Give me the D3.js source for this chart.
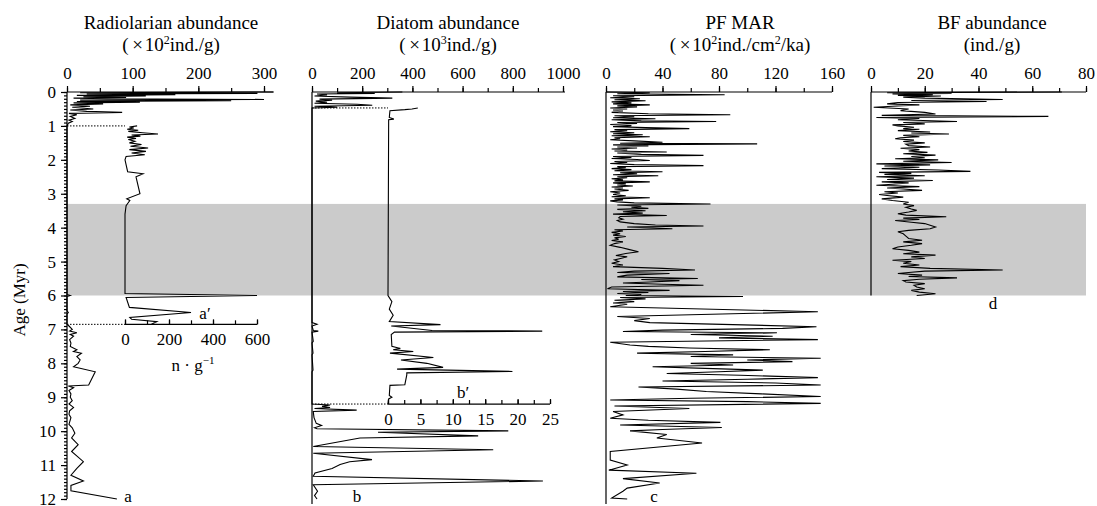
<!DOCTYPE html>
<meta charset="utf-8">
<head>
  <title>Microfossil records vs age</title>
</head>
<style>
    body { margin: 0; background: #fff; }
    svg text { font-family: "Liberation Serif", "Times New Roman", serif; font-size: 17px; fill: #000; }
    .trace { fill: none; stroke: #000; stroke-width: 1.1px; stroke-linejoin: miter; }
    .axis line, .axisline { stroke: #000; stroke-width: 1.2px; }
    .axis text { font-size: 17px; }
    .title { font-size: 19px; }
    .dots { stroke: #000; stroke-width: 1px; stroke-dasharray: 1.5 1.5; }
</style>
<body>
<svg id="chart" width="1097" height="506"></svg>
<script src="https://d3js.org/d3.v7.min.js"></script>
<script>
    // ages in Myr
    var ageTicks = [0,1,2,3,4,5,6,7,8,9,10,11,12];
    var shadeBand = [3.3, 6.0];

    var radTicks = [0,100,200,300];
    var radInsetTicks = [0,200,400,600];
    var diaTicks = [0,200,400,600,800,1000];
    var diaInsetTicks = [0,5,10,15,20,25];
    var pfTicks = [0,40,80,120,160];
    var bfTicks = [0,20,40,60,80];

    // a: radiolarian abundance (x10^2 ind./g)
    var radAbund = [[0,315],[0.02,20],[0.04,290],[0.06,30],[0.08,165],[0.1,15],[0.12,120],[0.14,25],[0.16,90],[0.18,10],
        [0.2,60],[0.22,300],[0.24,20],[0.26,250],[0.28,15],[0.3,111],[0.32,10],[0.35,55],[0.38,5],[0.42,35],[0.45,8],
        [0.5,40],[0.53,5],[0.57,30],[0.6,84],[0.63,3],[0.67,15],[0.72,5],[0.78,12],[0.83,3],[0.87,8],[0.92,2],[1,0],
        [5.97,0],[6,5],[6.03,0],[6.45,0],[6.5,2],[6.55,0],[6.85,0],[6.9,3],[7,8],[7.05,4],[7.1,15],[7.15,5],[7.2,10],
        [7.3,4],[7.4,6],[7.5,5],[7.6,15],[7.65,10],[7.7,22],[7.8,15],[7.9,20],[8,17],[8.1,10],[8.25,43],[8.64,33],
        [8.67,2],[8.72,10],[8.8,3],[8.9,6],[9,5],[9.1,8],[9.2,3],[9.3,10],[9.4,4],[9.5,3],[9.6,6],[9.8,3],[9.9,8],
        [10.06,12],[10.2,7],[10.4,17],[10.6,7],[10.9,25],[11.1,15],[11.3,6],[11.47,25],[11.6,6],[11.76,6],[12,76]];

    // a': radiolarian abundance, 1.0-6.85 Myr (n/g)
    var radInset = [[1,55],[1.03,20],[1.06,40],[1.1,10],[1.13,60],[1.16,15],[1.2,80],[1.24,150],[1.27,30],[1.3,70],
        [1.33,10],[1.37,50],[1.4,15],[1.45,45],[1.5,20],[1.55,75],[1.6,25],[1.65,105],[1.7,20],[1.75,95],[1.8,30],
        [1.85,90],[1.9,5],[2,0],[2.35,12],[2.41,82],[2.5,50],[3,68],[3.15,8],[3.2,22],[3.35,5],[3.6,0],[5.94,0],
        [6,600],[6.06,5],[6.35,20],[6.5,300],[6.65,22],[6.7,30],[6.77,145],[6.85,120]];

    // b: diatom abundance (x10^3 ind./g)
    var diaAbund = [[0,360],[0.02,100],[0.04,250],[0.06,20],[0.09,60],[0.12,10],[0.15,150],[0.18,320],[0.21,30],
        [0.24,80],[0.27,15],[0.3,60],[0.33,10],[0.36,180],[0.39,240],[0.42,10],[0.45,100],[0.47,0],[6.8,0],[6.85,20],
        [6.9,0],[7.03,5],[7.05,25],[7.08,0],[7.35,5],[7.4,0],[7.7,4],[7.75,0],[8.2,4],[8.25,0],[9.2,0],[9.23,72],
        [9.27,40],[9.3,72],[9.33,10],[9.38,178],[9.42,5],[9.6,8],[9.77,17],[9.83,38],[9.9,10],[9.93,20],[9.99,782],
        [10.03,263],[10.14,662],[10.2,191],[10.45,5],[10.55,722],[10.65,5],[10.84,239],[10.9,150],[10.98,112],
        [11.1,80],[11.23,12],[11.33,5],[11.47,920],[11.58,5],[11.77,22],[11.9,10],[12,20]];

    // b': diatom abundance, 0.47-9.2 Myr
    var diaInset = [[0.47,4.6],[0.5,3.7],[0.52,2.6],[0.55,0.3],[0.75,0.2],[0.8,0.9],[0.82,0.1],[6,0],[6.18,0.6],
        [6.4,0.2],[6.58,0.8],[6.77,0.2],[6.86,8.1],[6.9,0.5],[7.03,6.8],[7.05,23.8],[7.08,1],[7.15,0.5],[7.5,0.6],
        [7.56,1.9],[7.6,0.8],[7.65,3.9],[7.7,0.3],[7.83,7],[7.9,2],[8,6],[8.12,8.5],[8.17,1.4],[8.24,19.2],[8.28,2.9],
        [8.34,2.9],[8.63,2.6],[8.65,0.3],[8.95,0.2],[9,0.6],[9.05,0.1],[9.2,0]];

    // c: planktonic foraminifera MAR (x10^2 ind./cm2/ka)
    var pfMar = [[0,0],[0.02,31],[0.05,8],[0.08,84],[0.11,5],[0.14,20],[0.17,3],[0.2,24],[0.23,6],[0.26,28],[0.29,4],
        [0.32,18],[0.35,5],[0.38,31],[0.41,8],[0.44,22],[0.47,3],[0.5,15],[0.53,5],[0.56,12],[0.6,4],[0.64,30],
        [0.67,88],[0.7,6],[0.73,20],[0.76,5],[0.79,35],[0.82,4],[0.85,25],[0.87,78],[0.9,8],[0.93,22],[0.96,3],
        [0.99,18],[1.02,5],[1.05,28],[1.08,59],[1.11,6],[1.14,15],[1.17,3],[1.2,20],[1.23,5],[1.26,26],[1.29,4],
        [1.32,31],[1.35,6],[1.38,10],[1.41,3],[1.44,20],[1.48,40],[1.51,10],[1.53,107],[1.56,5],[1.59,30],[1.62,8],
        [1.65,22],[1.68,4],[1.71,15],[1.74,6],[1.77,43],[1.8,8],[1.84,25],[1.87,69],[1.9,5],[1.93,18],[1.96,4],
        [1.99,22],[2.02,31],[2.05,6],[2.08,15],[2.11,3],[2.14,20],[2.17,69],[2.2,8],[2.23,14],[2.26,4],[2.29,18],
        [2.32,6],[2.35,40],[2.38,10],[2.41,22],[2.44,5],[2.47,37],[2.5,8],[2.53,15],[2.56,4],[2.59,12],[2.62,6],
        [2.65,31],[2.68,5],[2.71,14],[2.74,8],[2.77,19],[2.8,4],[2.83,12],[2.86,6],[2.9,16],[2.94,3],[2.98,10],
        [3.02,5],[3.06,14],[3.09,4],[3.12,31],[3.15,6],[3.18,12],[3.21,3],[3.24,8],[3.27,20],[3.3,74],[3.33,8],
        [3.37,25],[3.4,18],[3.43,30],[3.46,8],[3.5,28],[3.53,12],[3.57,26],[3.6,5],[3.64,43],[3.67,10],[3.71,9],
        [3.75,12],[3.79,8],[3.83,10],[3.88,20],[3.92,35],[3.95,69],[3.98,15],[4.03,47],[4.06,6],[4.1,12],[4.14,4],
        [4.18,10],[4.22,5],[4.26,14],[4.3,6],[4.34,9],[4.38,4],[4.42,12],[4.47,6],[4.52,3],[4.58,10],[4.64,16],
        [4.71,23],[4.76,14],[4.82,7],[4.86,15],[4.9,11],[4.95,6],[5,9],[5.05,4],[5.1,12],[5.15,5],[5.2,40],[5.25,63],
        [5.28,20],[5.32,8],[5.35,45],[5.4,15],[5.45,8],[5.5,65],[5.53,25],[5.56,52],[5.6,31],[5.63,12],[5.67,40],
        [5.7,69],[5.75,4],[5.8,1],[5.85,45],[5.88,12],[5.91,30],[5.94,8],[5.97,25],[6,14],[6.03,97],[6.06,10],
        [6.1,28],[6.14,6],[6.18,20],[6.22,5],[6.26,15],[6.33,3],[6.48,150],[6.62,8],[6.68,31],[6.74,20],[6.8,31],
        [6.92,149],[6.97,125],[7.02,40],[7.06,12],[7.1,121],[7.15,60],[7.2,118],[7.25,80],[7.3,150],[7.38,3],
        [7.46,17],[7.5,30],[7.55,59],[7.6,116],[7.65,70],[7.7,22],[7.75,90],[7.8,60],[7.85,152],[7.9,100],
        [7.95,132],[8,60],[8.05,90],[8.1,33],[8.15,70],[8.2,111],[8.25,80],[8.3,43],[8.35,95],[8.42,150],[8.47,100],
        [8.52,40],[8.58,120],[8.64,152],[8.7,23],[8.76,50],[8.83,71],[8.9,110],[8.98,152],[9.03,60],[9.08,3],
        [9.13,100],[9.18,152],[9.26,6],[9.33,59],[9.42,5],[9.52,12],[9.62,3],[9.68,30],[9.74,81],[9.82,10],
        [9.89,82],[9.95,40],[9.99,17],[10.1,43],[10.2,36],[10.35,68],[10.6,3],[10.85,3],[11,15],[11.15,2],
        [11.24,64],[11.4,12],[11.53,38],[11.68,15],[11.77,12],[11.97,4],[12,15]];

    // d: benthic foraminifera abundance (ind./g)
    var bfAbund = [[0,71],[0.02,6],[0.04,30],[0.06,8],[0.08,23],[0.1,10],[0.12,26],[0.15,12],[0.18,20],[0.22,49],
        [0.25,15],[0.28,43],[0.31,10],[0.35,6],[0.38,18],[0.42,8],[0.45,1],[0.5,14],[0.55,11],[0.6,20],[0.65,24],
        [0.69,4],[0.72,66],[0.75,2],[0.78,18],[0.82,10],[0.87,32],[0.9,12],[0.94,20],[0.97,8],[1,10],[1.04,16],
        [1.08,12],[1.1,18],[1.14,10],[1.18,22],[1.21,15],[1.24,29],[1.28,12],[1.32,18],[1.35,11],[1.38,9],[1.42,16],
        [1.46,12],[1.5,20],[1.54,13],[1.58,14],[1.62,22],[1.66,11],[1.7,18],[1.74,14],[1.78,21],[1.82,12],[1.86,24],
        [1.9,15],[1.94,20],[1.97,9],[2,25],[2.04,12],[2.08,30],[2.12,2],[2.15,22],[2.18,5],[2.22,18],[2.26,4],
        [2.3,25],[2.34,37],[2.37,3],[2.4,15],[2.43,5],[2.47,20],[2.5,2],[2.54,16],[2.58,6],[2.61,23],[2.65,4],
        [2.68,14],[2.72,8],[2.75,2],[2.79,18],[2.83,6],[2.86,12],[2.9,19],[2.94,5],[2.98,10],[3.02,3],[3.05,6],
        [3.1,12],[3.15,4],[3.2,8],[3.25,14],[3.3,12],[3.35,16],[3.4,13],[3.45,15],[3.49,17],[3.54,14],[3.59,10],
        [3.63,13],[3.68,28],[3.72,12],[3.76,18],[3.79,9],[3.84,15],[3.88,20],[3.93,22],[3.98,24],[4.03,22],
        [4.08,14],[4.12,10],[4.18,12],[4.25,13],[4.32,14],[4.37,19],[4.42,12],[4.47,19],[4.52,15],[4.57,10],
        [4.62,8],[4.67,14],[4.72,18],[4.77,12],[4.81,24],[4.86,15],[4.91,20],[4.96,8],[5,15],[5.05,12],[5.1,18],
        [5.15,11],[5.2,22],[5.25,49],[5.28,20],[5.32,14],[5.35,10],[5.4,19],[5.44,14],[5.48,32],[5.52,18],
        [5.56,12],[5.6,13],[5.65,20],[5.7,16],[5.75,17],[5.8,20],[5.85,15],[5.9,18],[5.95,24],[6,17]];

    var svg = d3.select("#chart");
    var axisY = 92;

    var y = d3.scaleLinear().domain([0, 12]).range([92, 499]);

    var xRad = d3.scaleLinear().domain([0, 300]).range([67, 264]);
    var xRadIn = d3.scaleLinear().domain([0, 600]).range([125, 257]);
    var xDia = d3.scaleLinear().domain([0, 1000]).range([312, 563]);
    var xDiaIn = d3.scaleLinear().domain([0, 25]).range([388, 550]);
    var xPf = d3.scaleLinear().domain([0, 160]).range([606, 832]);
    var xBf = d3.scaleLinear().domain([0, 80]).range([871, 1086]);

    // grey interval
    svg.append("rect")
        .attr("x", 67)
        .attr("y", y(shadeBand[0]))
        .attr("width", 1086 - 67)
        .attr("height", y(shadeBand[1]) - y(shadeBand[0]))
        .attr("fill", "#cbcbcb");

    function trace(data, xs) {
        var line = d3.line()
            .x(function(d) { return xs(d[1]); })
            .y(function(d) { return y(d[0]); });
        svg.append("path").attr("class", "trace").attr("d", line(data));
    }

    function topAxis(xs, majors, step, end) {
        var minors = d3.range(0, xs.domain()[1] + 1e-9, step);
        svg.append("g").attr("class", "axis")
            .attr("transform", "translate(0," + axisY + ")")
            .call(d3.axisTop(xs).tickValues(minors).tickSize(4).tickFormat(""))
            .call(function(g) { g.select(".domain").remove(); });
        svg.append("g").attr("class", "axis")
            .attr("transform", "translate(0," + axisY + ")")
            .call(d3.axisTop(xs).tickValues(majors).tickSize(6).tickPadding(7).tickFormat(d3.format("d")))
            .call(function(g) { g.select(".domain").remove(); });
        svg.append("line").attr("class", "axisline")
            .attr("x1", xs(0)).attr("x2", end)
            .attr("y1", axisY).attr("y2", axisY);
    }

    function insetAxis(xs, majors, step, age) {
        var minors = d3.range(0, xs.domain()[1] + 1e-9, step);
        svg.append("g").attr("class", "axis")
            .attr("transform", "translate(0," + y(age) + ")")
            .call(d3.axisBottom(xs).tickValues(minors).tickSize(-4).tickFormat(""))
            .call(function(g) { g.select(".domain").remove(); });
        svg.append("g").attr("class", "axis")
            .attr("transform", "translate(0," + y(age) + ")")
            .call(d3.axisBottom(xs).tickValues(majors).tickSize(-5).tickPadding(9))
            .call(function(g) { g.select(".domain").remove(); });
        svg.append("line").attr("class", "axisline")
            .attr("x1", xs.range()[0]).attr("x2", xs.range()[1])
            .attr("y1", y(age)).attr("y2", y(age));
    }

    function dotted(x1, x2, age) {
        svg.append("line").attr("class", "dots")
            .attr("x1", x1).attr("x2", x2)
            .attr("y1", y(age)).attr("y2", y(age));
    }

    function vline(x, y2) {
        svg.append("line").attr("class", "axisline")
            .attr("x1", x).attr("x2", x).attr("y1", axisY).attr("y2", y2);
    }

    // age axis on panel a
    svg.append("g").attr("class", "axis")
        .attr("transform", "translate(67,0)")
        .call(d3.axisLeft(y).tickValues(d3.range(0, 12.001, 0.1)).tickSize(3).tickFormat(""))
        .call(function(g) { g.select(".domain").remove(); });
    svg.append("g").attr("class", "axis")
        .attr("transform", "translate(67,0)")
        .call(d3.axisLeft(y).tickValues(ageTicks).tickSize(6).tickPadding(5))
        .call(function(g) { g.select(".domain").remove(); });
    vline(67, y(12));
    vline(312, 504);
    vline(606, 504);
    vline(871, y(6));

    topAxis(xRad, radTicks, 50, 273);
    topAxis(xDia, diaTicks, 100, 565);
    topAxis(xPf, pfTicks, 20, 832);
    topAxis(xBf, bfTicks, 10, 1086);

    insetAxis(xRadIn, radInsetTicks, 100, 6.85);
    insetAxis(xDiaIn, diaInsetTicks, 2.5, 9.2);

    dotted(67, 125, 1.0);
    dotted(67, 125, 6.85);
    dotted(312, 388, 0.47);
    dotted(312, 388, 9.2);

    trace(radAbund, xRad);
    trace(radInset, xRadIn);
    trace(diaAbund, xDia);
    trace(diaInset, xDiaIn);
    trace(pfMar, xPf);
    trace(bfAbund, xBf);

    // titles
    function title(cx, line1, pre, sup, post, sup2, post2) {
        svg.append("text").attr("class", "title").attr("x", cx).attr("y", 29)
            .attr("text-anchor", "middle").text(line1);
        var t = svg.append("text").attr("class", "title").attr("x", cx).attr("y", 51)
            .attr("text-anchor", "middle");
        t.append("tspan").text(pre);
        if (sup) {
            t.append("tspan").attr("dy", -7).style("font-size", "12px").text(sup);
            t.append("tspan").attr("dy", 7).text(post);
        }
        if (sup2) {
            t.append("tspan").attr("dy", -7).style("font-size", "12px").text(sup2);
            t.append("tspan").attr("dy", 7).text(post2);
        }
    }
    title(171, "Radiolarian abundance", "(\u2009\u00d7\u200a10", "2", "ind./g)");
    title(448, "Diatom abundance", "(\u2009\u00d7\u200a10", "3", "ind./g)");
    title(740, "PF MAR", "(\u2009\u00d7\u200a10", "2", "ind./cm", "2", "/ka)");
    title(992, "BF abundance", "(ind./g)");

    svg.append("text")
        .attr("transform", "translate(25,300) rotate(-90)")
        .attr("text-anchor", "middle")
        .text("Age (Myr)");

    var u = svg.append("text").attr("x", 193).attr("y", 371).attr("text-anchor", "middle");
    u.append("tspan").text("n \u00b7 g");
    u.append("tspan").attr("dy", -7).style("font-size", "11px").text("\u22121");

    function tag(x, yy, s) {
        svg.append("text").attr("x", x).attr("y", yy).attr("text-anchor", "middle").text(s);
    }
    tag(128, 502, "a");
    tag(205, 319, "a\u2032");
    tag(357, 502, "b");
    tag(463, 398, "b\u2032");
    tag(654, 502, "c");
    tag(993, 309, "d");
</script>
</body>
